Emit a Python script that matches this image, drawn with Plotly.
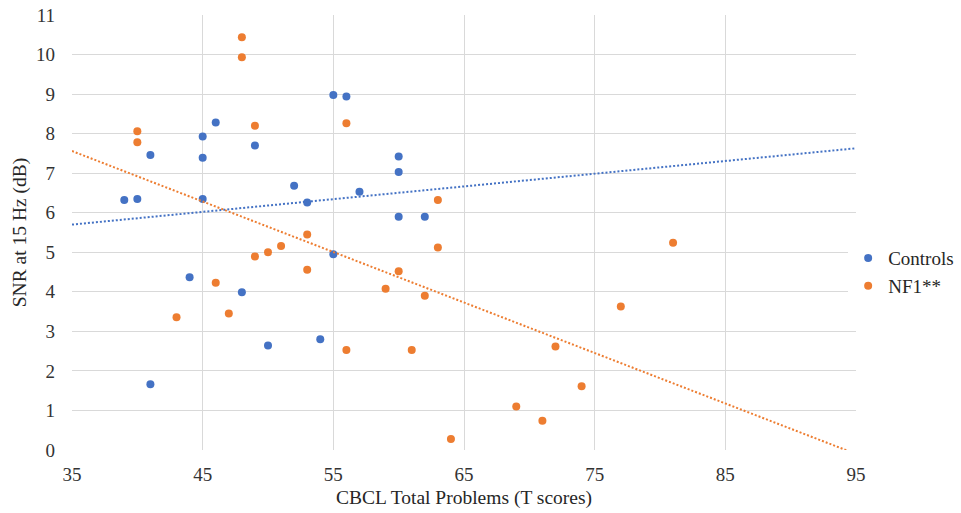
import plotly.graph_objects as go

# CBCL Total Problems (T scores) vs SNR at 15 Hz (dB)
controls_x = [39, 40, 41, 45, 45, 46, 45, 49, 52, 53, 55, 56, 57, 60, 60, 60, 62,
              44, 48, 55, 41, 50, 54]
controls_y = [6.32, 6.35, 7.46, 7.93, 7.39, 8.28, 6.35, 7.70, 6.68, 6.26, 8.98, 8.94, 6.53,
              7.42, 7.03, 5.90, 5.90, 4.37, 3.99, 4.95, 1.66, 2.64, 2.80]

nf1_x = [48, 48, 40, 40, 49, 56, 63, 53, 49, 50, 51, 53, 46, 47, 43, 56, 63, 60, 59, 62,
         77, 61, 72, 74, 69, 71, 64, 81]
nf1_y = [10.44, 9.93, 8.06, 7.78, 8.20, 8.26, 6.32, 5.45, 4.89, 5.00, 5.16, 4.56, 4.23,
         3.45, 3.36, 2.53, 5.12, 4.52, 4.08, 3.90, 3.63, 2.53, 2.62, 1.61, 1.10, 0.74,
         0.28, 5.24]

# Linear trendline values at the ends of the x axis
trend_x = [35, 95]
controls_trend = [5.70, 7.63]
nf1_trend = [7.56, -0.10]

series_names = ["Controls", "NF1**"]
series_colors = ["#4472C4", "#ED7D31"]

x_range = [35, 95]
y_range = [0, 11]
x_ticks = [35, 45, 55, 65, 75, 85, 95]
y_ticks = list(range(0, 12))

serif = "Liberation Serif, Times New Roman, serif"
text_color = "#262626"

fig = go.Figure()

groups = [(controls_x, controls_y), (nf1_x, nf1_y)]
for (xs, ys), name, color in zip(groups, series_names, series_colors):
    fig.add_trace(go.Scatter(
        x=xs, y=ys, mode="markers", name=name,
        marker=dict(color=color, size=8, line=dict(width=0)),
    ))

for trend, color in zip([controls_trend, nf1_trend], series_colors):
    fig.add_trace(go.Scatter(
        x=trend_x, y=trend, mode="lines", showlegend=False, hoverinfo="skip",
        line=dict(color=color, width=2, dash="2px,2px"),
    ))

tick_font = dict(family=serif, size=19, color="#333333")
title_font = dict(family=serif, size=19.5, color=text_color)

fig.update_layout(
    width=961, height=513,
    margin=dict(l=72, r=105, t=15, b=63, autoexpand=False),
    plot_bgcolor="white", paper_bgcolor="white",
    font=dict(family=serif, size=19, color=text_color),
    legend=dict(x=0.99, y=0.409, xanchor="left", yanchor="middle",
                font=dict(family=serif, size=19, color=text_color), itemwidth=30),
    xaxis=dict(range=x_range, tickvals=x_ticks, showgrid=True, gridcolor="#D9D9D9",
               gridwidth=1, zeroline=False, showline=False, tickfont=tick_font,
               ticks="", ticklabelstandoff=11, automargin=False,
               title=dict(text="CBCL Total Problems (T scores)", font=title_font, standoff=6)),
    yaxis=dict(range=y_range, tickvals=y_ticks, showgrid=True, gridcolor="#D9D9D9",
               gridwidth=1, zeroline=False, showline=False, tickfont=tick_font,
               ticks="", ticklabelstandoff=16, automargin=False,
               title=dict(text="SNR at 15 Hz (dB)", font=title_font, standoff=4)),
)

fig.write_html("out.html")
